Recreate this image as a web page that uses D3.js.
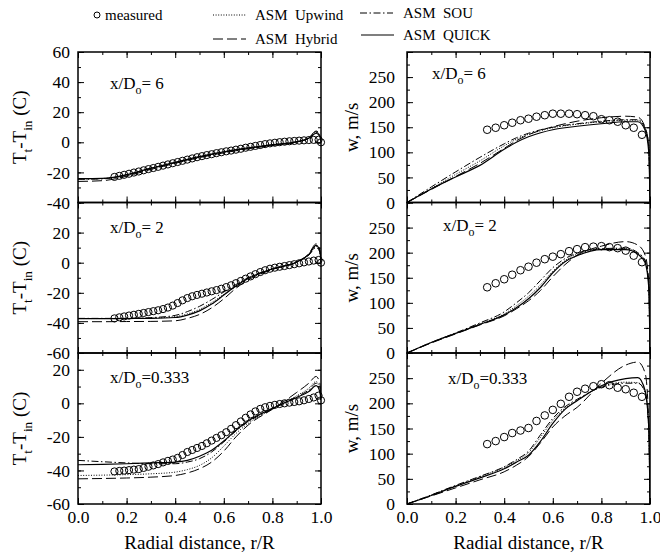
<!DOCTYPE html>
<html>
<head>
<meta charset="utf-8">
<script src="https://cdn.jsdelivr.net/npm/d3@7"></script>
<style>
  body { margin: 0; background: #fff; }
  svg text { font-family: "Liberation Serif", "Times New Roman", serif !important; fill: #000; }
</style>
</head>
<body>
<div id="chart"></div>
<script>
// ---- data ----
// radial positions of the measured temperatures (left column)
var measRT = [0.15,0.17,0.19,0.21,0.23,0.25,0.27,0.29,0.31,0.33,0.35,0.37,0.39,0.41,0.43,0.45,0.47,0.49,0.51,0.53,
              0.55,0.57,0.59,0.61,0.63,0.65,0.67,0.69,0.71,0.73,0.75,0.77,0.79,0.81,0.83,0.85,0.87,0.89,0.91,0.93,
              0.95,0.97,0.99,1.0];
// radial positions of the measured velocities (right column)
var measRW = [0.33,0.365,0.40,0.433,0.467,0.50,0.533,0.567,0.60,0.633,0.667,0.70,0.733,0.767,0.80,0.833,0.867,0.90,0.933,0.967];
// radial positions of the computed profiles
var lineR = [0,0.1,0.2,0.3,0.4,0.45,0.5,0.55,0.6,0.65,0.7,0.8,0.9,0.95,0.98,0.995,1.0];

// measured Tt - Tin (C)
var tMeas6 = [-23.0,-22.3,-21.6,-20.9,-20.1,-19.4,-18.6,-17.8,-17.1,-16.3,-15.5,-14.7,-13.9,-13.1,-12.3,-11.5,-10.7,-9.9,-9.2,-8.5,
              -7.9,-7.2,-6.6,-6.0,-5.5,-4.9,-4.3,-3.6,-3.0,-2.4,-1.8,-1.2,-0.7,-0.3,0.1,0.4,0.7,0.9,1.1,1.3,1.5,1.6,1.7,0.0];
var tMeas2 = [-37.0,-36.3,-35.7,-35.1,-34.6,-34.0,-33.4,-32.8,-32.2,-31.6,-30.8,-29.8,-28.5,-26.8,-25.0,-23.5,-22.3,-21.4,-20.6,-19.8,
              -19.0,-18.2,-17.3,-16.2,-15.0,-13.6,-12.1,-10.6,-9.1,-7.6,-6.2,-5.0,-4.0,-3.3,-2.7,-2.2,-1.6,-1.0,-0.4,0.2,0.8,1.4,1.8,0.0];
var tMeas033 = [-40.6,-40.3,-40.1,-39.8,-39.5,-39.2,-38.5,-37.8,-37.0,-36.2,-35.2,-34.3,-33.5,-32.5,-30.8,-29.0,-27.8,-26.6,-25.4,-23.8,
                -22.2,-20.6,-19.0,-17.2,-15.2,-13.0,-10.8,-8.6,-6.6,-4.8,-3.3,-2.3,-1.5,-0.9,-0.4,0.0,0.4,0.8,1.2,1.8,2.6,3.5,4.6,1.8];

// computed Tt - Tin (C)
var tUpwind6 = [-24.4,-24.1,-21.6,-17.3,-13.4,-11.4,-9.6,-7.9,-6.4,-5.0,-3.8,-1.7,0.3,2.8,6.5,4.2,0.5];
var tHybrid6 = [-26.0,-25.5,-22.5,-18.0,-14.0,-12.0,-10.2,-8.5,-7.0,-5.6,-4.3,-2.1,0.1,3.0,7.5,5.0,0.5];
var tSou6    = [-24.6,-24.3,-21.8,-17.5,-13.6,-11.6,-9.8,-8.1,-6.6,-5.2,-4.0,-1.9,0.2,2.8,7.0,4.5,0.5];
var tQuick6  = [-24.2,-24.0,-21.5,-17.2,-13.3,-11.3,-9.5,-7.8,-6.3,-4.9,-3.7,-1.6,0.4,2.7,6.0,4.0,0.5];

var tUpwind2 = [-37.1,-37.1,-37.0,-36.8,-35.8,-34.0,-31.0,-26.5,-21.0,-15.2,-10.4,-4.2,0.5,5.2,10.8,7.5,0.5];
var tHybrid2 = [-39.2,-39.2,-39.1,-39.0,-38.6,-37.0,-34.4,-30.0,-24.0,-17.0,-11.5,-4.5,0.4,6.0,12.5,9.0,0.5];
var tSou2    = [-37.0,-37.0,-37.0,-36.5,-35.0,-32.5,-29.0,-24.5,-19.5,-14.5,-10.0,-4.0,0.6,5.0,10.0,7.0,0.5];
var tQuick2  = [-37.2,-37.2,-37.1,-37.0,-36.4,-34.8,-32.0,-27.5,-21.5,-15.5,-10.5,-4.2,0.5,5.5,11.5,8.0,0.5];

var tUpwind033 = [-43.0,-42.8,-42.5,-42.0,-41.0,-39.5,-37.0,-32.5,-25.5,-18.0,-12.0,-3.5,4.5,9.0,13.0,9.0,2.0];
var tHybrid033 = [-45.0,-44.8,-44.5,-44.0,-43.0,-41.5,-39.0,-35.0,-28.5,-20.0,-13.0,-3.5,6.5,12.0,16.0,12.0,3.0];
var tSou033    = [-34.0,-34.8,-35.5,-36.0,-36.0,-35.0,-33.0,-29.0,-23.0,-16.5,-11.0,-3.5,4.0,8.0,12.0,8.0,2.0];
var tQuick033  = [-36.6,-36.4,-36.0,-35.5,-35.0,-34.0,-31.5,-28.0,-22.5,-16.0,-10.5,-3.0,3.5,7.0,10.5,7.0,2.0];

// measured w (m/s)
var wMeas6   = [145,149,154,159,164,167,171,174,177,177,177,176,174,172,166,164,161,154,149,135];
var wMeas2   = [131,139,147,156,165,172,180,187,192,197,203,207,211,212,213,211,209,204,194,181];
var wMeas033 = [119,125,133,141,146,151,165,176,187,199,213,223,229,234,238,236,231,228,221,213];

// computed w (m/s)
var wUpwind6 = [0,28,56,83,113,126,136,143,149,153,156,161,164,164,147,111,0];
var wHybrid6 = [0,26,52,78,108,123,135,144,151,157,162,169,172,170,150,112,0];
var wSou6    = [0,31,61,90,117,129,138,145,150,154,157,162,165,165,148,112,0];
var wQuick6  = [0,27,51,74,106,120,131,139,145,149,152,157,161,161,144,100,0];

var wUpwind2 = [0,21,39,58,78,94,113,136,163,184,197,207,208,199,183,135,0];
var wHybrid2 = [0,20,38,56,74,88,104,125,152,176,195,213,222,215,195,140,0];
var wSou2    = [0,21,40,60,82,100,120,145,170,188,199,208,209,200,184,135,0];
var wQuick2  = [0,21,39,57,76,90,108,131,160,182,194,206,206,197,180,130,0];

var wUpwind033 = [0,18,36,54,73,86,102,133,166,190,206,233,242,241,222,150,0];
var wHybrid033 = [0,16,32,48,64,77,94,122,153,175,192,240,276,282,260,160,0];
var wSou033    = [0,18,37,55,74,88,105,138,170,193,208,232,240,240,222,150,0];
var wQuick033  = [0,17,35,52,70,83,97,125,160,188,205,235,249,251,225,150,0];

var stations = ["= 6", "= 2", "=0.333"];
var modelNames = ["ASM  Upwind", "ASM  Hybrid", "ASM  SOU", "ASM  QUICK"];
var xTicks = [0, 0.2, 0.4, 0.6, 0.8, 1.0];

// ---- layout ----
var width = 660, height = 557;
var colLeft = [78, 407], plotW = 243;
var rowTop = [52, 202.5, 353], rowBot = [202.5, 353, 504];
var dashes = ["1,1.6", "10,4", "7,2.5,1.5,2.5", null];
var font = { tick: 17.5, title: 19, note: 17, legend: 15 };
var serif = "'Liberation Serif', 'Times New Roman', serif";

var svg = d3.select("#chart").append("svg")
    .attr("width", width)
    .attr("height", height)
    .attr("font-family", serif);

var panels = [
  { col: 0, row: 0, domain: [-40, 60], major: 20, minor: 10, labels: [-40,-20,0,20,40,60], meas: tMeas6, mr: measRT,
    models: [tUpwind6, tHybrid6, tSou6, tQuick6], note: [32, 37] },
  { col: 0, row: 1, domain: [-60, 40], major: 20, minor: 10, labels: [-60,-40,-20,0,20], meas: tMeas2, mr: measRT,
    models: [tUpwind2, tHybrid2, tSou2, tQuick2], note: [32, 30] },
  { col: 0, row: 2, domain: [-60, 30], major: 20, minor: 10, labels: [-60,-40,-20,0,20], meas: tMeas033, mr: measRT,
    models: [tUpwind033, tHybrid033, tSou033, tQuick033], note: [32, 30] },
  { col: 1, row: 0, domain: [0, 300], major: 50, minor: 25, labels: [0,50,100,150,200,250], meas: wMeas6, mr: measRW,
    models: [wUpwind6, wHybrid6, wSou6, wQuick6], note: [25, 27] },
  { col: 1, row: 1, domain: [0, 300], major: 50, minor: 25, labels: [0,50,100,150,200,250], meas: wMeas2, mr: measRW,
    models: [wUpwind2, wHybrid2, wSou2, wQuick2], note: [36, 28] },
  { col: 1, row: 2, domain: [0, 300], major: 50, minor: 25, labels: [0,50,100,150,200,250], meas: wMeas033, mr: measRW,
    models: [wUpwind033, wHybrid033, wSou033, wQuick033], note: [41, 31] }
];

function ticksBetween(domain, step) {
  var out = [];
  for (var v = Math.ceil(domain[0] / step) * step; v <= domain[1] + 1e-9; v += step) out.push(+v.toFixed(6));
  return out;
}

// write text with subscript parts: parts = [[text, isSub], ...]
function richText(sel, parts, size) {
  var down = false;
  parts.forEach(function(p) {
    var t = sel.append("tspan").text(p[0]);
    if (p[1] && !down) { t.attr("dy", size * 0.3).attr("font-size", size * 0.7); down = true; }
    else if (!p[1] && down) { t.attr("dy", -size * 0.3); down = false; }
    else if (p[1]) { t.attr("font-size", size * 0.7); }
  });
}

panels.forEach(function(p, i) {
  var x0 = colLeft[p.col], x1 = x0 + plotW;
  var yTop = rowTop[p.row], yBot = rowBot[p.row];
  var x = d3.scaleLinear().domain([0, 1]).range([x0, x1]);
  var y = d3.scaleLinear().domain(p.domain).range([yBot, yTop]);

  var g = svg.append("g");

  g.append("clipPath").attr("id", "clip" + i)
    .append("rect").attr("x", x0).attr("y", yTop).attr("width", plotW).attr("height", yBot - yTop);

  // computed profiles
  var line = d3.line()
      .x(function(d) { return x(d[0]); })
      .y(function(d) { return y(d[1]); })
      .curve(d3.curveMonotoneX);
  p.models.forEach(function(vals, k) {
    g.append("path")
      .datum(lineR.map(function(r, j) { return [r, vals[j]]; }))
      .attr("clip-path", "url(#clip" + i + ")")
      .attr("fill", "none")
      .attr("stroke", "#000")
      .attr("stroke-width", k === 3 ? 1.2 : 1)
      .attr("stroke-dasharray", dashes[k])
      .attr("d", line);
  });

  // measured points
  g.selectAll(".meas")
    .data(p.mr.map(function(r, j) { return [r, p.meas[j]]; }))
    .enter().append("circle")
      .attr("class", "meas")
      .attr("cx", function(d) { return x(d[0]); })
      .attr("cy", function(d) { return y(d[1]); })
      .attr("r", p.col === 0 ? 3.6 : 3.8)
      .attr("fill", "none")
      .attr("stroke", "#000")
      .attr("stroke-width", 1);

  // axes: majors and minors on all four sides, pointing inward
  var yMajor = ticksBetween(p.domain, p.major), yMinor = ticksBetween(p.domain, p.minor);
  var xMinor = d3.range(0, 11).map(function(k) { return k / 10; });
  var pad = p.col === 0 ? 8 : 12;

  function addAxis(axis, tx, ty) {
    var a = g.append("g").attr("transform", "translate(" + tx + "," + ty + ")").call(axis);
    a.attr("font-family", serif).attr("font-size", font.tick);
    a.select(".domain").remove();
    a.selectAll("line").attr("stroke-width", 1);
    return a;
  }

  addAxis(d3.axisLeft(y).tickValues(yMinor).tickSizeInner(-3).tickSizeOuter(0).tickFormat(""), x0, 0);
  addAxis(d3.axisLeft(y).tickValues(yMajor).tickSizeInner(-6).tickSizeOuter(0).tickPadding(pad)
    .tickFormat(function(v) { return p.labels.indexOf(v) >= 0 ? v : ""; }), x0, 0);
  addAxis(d3.axisRight(y).tickValues(yMinor).tickSizeInner(-3).tickSizeOuter(0).tickFormat(""), x1, 0);
  addAxis(d3.axisRight(y).tickValues(yMajor).tickSizeInner(-6).tickSizeOuter(0).tickFormat(""), x1, 0);

  addAxis(d3.axisTop(x).tickValues(xMinor).tickSizeInner(-3).tickSizeOuter(0).tickFormat(""), 0, yTop);
  addAxis(d3.axisTop(x).tickValues(xTicks).tickSizeInner(-6).tickSizeOuter(0).tickFormat(""), 0, yTop);
  addAxis(d3.axisBottom(x).tickValues(xMinor).tickSizeInner(-3).tickSizeOuter(0).tickFormat(""), 0, yBot);
  addAxis(d3.axisBottom(x).tickValues(xTicks).tickSizeInner(-6).tickSizeOuter(0).tickPadding(7)
    .tickFormat(p.row === 2 ? d3.format(".1f") : ""), 0, yBot);

  // frame
  g.append("rect")
    .attr("x", x0).attr("y", yTop)
    .attr("width", plotW).attr("height", yBot - yTop)
    .attr("fill", "none").attr("stroke", "#000").attr("stroke-width", 1.5);

  // station note
  var note = g.append("text")
    .attr("x", x0 + p.note[0])
    .attr("y", yTop + p.note[1])
    .attr("font-size", font.note);
  richText(note, [["x/D", false], ["o", true], [stations[p.row], false]], font.note);

  // axis title
  var cy = (yTop + yBot) / 2;
  var title = g.append("text")
    .attr("text-anchor", "middle")
    .attr("font-size", font.title)
    .attr("transform", "translate(" + (p.col === 0 ? 26 : 358) + "," + cy + ")rotate(-90)");
  if (p.col === 0) {
    richText(title, [["T", false], ["t", true], ["-T", false], ["in", true], [" (C)", false]], font.title);
  } else {
    title.text("w, m/s");
  }
});

// x axis titles
[0, 1].forEach(function(c) {
  svg.append("text")
    .attr("x", colLeft[c] + plotW / 2)
    .attr("y", 549)
    .attr("text-anchor", "middle")
    .attr("font-size", font.title)
    .text("Radial distance, r/R");
});

// legend
var legend = svg.append("g").attr("font-size", font.legend);
legend.append("circle").attr("cx", 97).attr("cy", 15).attr("r", 3)
  .attr("fill", "none").attr("stroke", "#000").attr("stroke-width", 1);
legend.append("text").attr("x", 105).attr("y", 20).text("measured");

var legendPos = [[213, 15, 255, 20], [213, 39, 255, 44], [360, 13, 403, 18], [361, 35, 403, 40]];
modelNames.forEach(function(name, k) {
  var lp = legendPos[k];
  legend.append("line")
    .attr("x1", lp[0]).attr("x2", lp[0] + 33)
    .attr("y1", lp[1]).attr("y2", lp[1])
    .attr("stroke", "#000")
    .attr("stroke-width", k === 3 ? 1.2 : 1)
    .attr("stroke-dasharray", dashes[k]);
  legend.append("text").attr("x", lp[2]).attr("y", lp[3])
    .attr("xml:space", "preserve")
    .style("white-space", "pre")
    .text(name);
});
</script>
</body>
</html>
